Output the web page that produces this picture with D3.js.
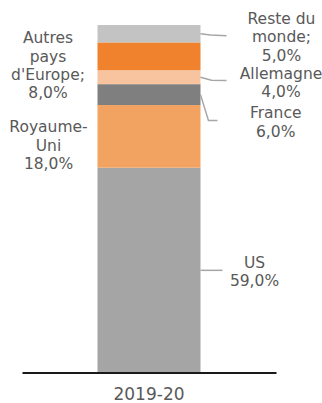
<!DOCTYPE html>
<html>
<head>
<meta charset="utf-8">
<script src="https://cdn.jsdelivr.net/npm/d3@7"></script>
<style>
  html, body { margin: 0; padding: 0; background: #fff; }
  svg { display: block; }
  text { font-family: "DejaVu Sans", sans-serif; fill: #595959; }
</style>
</head>
<body>
<svg id="chart" width="322" height="403"></svg>
<script>
// ---- data ----
const period = ["2019-20"];
const categories = ["US", "Royaume-Uni", "France", "Allemagne", "Autres pays d'Europe", "Reste du monde"];
const values = [59, 18, 6, 4, 8, 5];
const labelLines = [
  ["US", "59,0%"],
  ["Royaume-", "Uni", "18,0%"],
  ["France", "6,0%"],
  ["Allemagne", "4,0%"],
  ["Autres", "pays", "d'Europe;", "8,0%"],
  ["Reste du", "monde;", "5,0%"]
];

// ---- styles / layout ----
const colors = ["#a5a5a5", "#f3a361", "#7f7f7f", "#f8c4a0", "#f0822e", "#c3c3c3"];
const labelLayout = [
  { x: 254.5, y: 267.7, leader: [[0, 0], [22, 0]] },
  { x: 48.5, y: 132.3, leader: null },
  { x: 275.7, y: 118.3, leader: [[0, 0], [8, 26], [17, 26]] },
  { x: 281, y: 79, leader: [[0, 0], [11, 3], [26, 3.3]] },
  { x: 48, y: 43.3, leader: null },
  { x: 281.5, y: 24, leader: [[0, 0], [10, 1.2], [26, 2]] }
];

const svg = d3.select("#chart");
const x = d3.scaleBand().domain(period).range([22, 276]).paddingInner(0).paddingOuter(0.733);
const y = d3.scaleLinear().domain([0, 100]).range([373, 25]);

let cum = 0;
const segs = values.map((v, i) => {
  const s = { i, y0: cum, y1: cum + v };
  cum += v;
  return s;
});

svg.append("g").selectAll("rect").data(segs).join("rect")
  .attr("x", x(period[0]))
  .attr("width", x.bandwidth())
  .attr("y", d => y(d.y1))
  .attr("height", d => y(d.y0) - y(d.y1))
  .attr("fill", d => colors[d.i]);

const xr = x(period[0]) + x.bandwidth();
const line = d3.line();
segs.forEach(d => {
  const L = labelLayout[d.i];
  if (!L.leader) return;
  const ym = y((d.y0 + d.y1) / 2);
  svg.append("path")
    .attr("d", line(L.leader.map(p => [xr + p[0], ym + p[1]])))
    .attr("fill", "none")
    .attr("stroke", "#a6a6a6")
    .attr("stroke-width", 1.5);
});

segs.forEach(d => {
  const L = labelLayout[d.i];
  const t = svg.append("text")
    .attr("text-anchor", "middle")
    .attr("font-size", 15.5);
  labelLines[d.i].forEach((s, k) => {
    t.append("tspan").attr("x", L.x).attr("y", L.y + k * 18.3).text(s);
  });
});

const axis = d3.axisBottom(x).tickSize(0).tickPadding(0);
const ag = svg.append("g").attr("transform", "translate(0,372.5)").call(axis);
ag.select(".domain").attr("stroke", "#1a1a1a").attr("stroke-width", 2);
ag.selectAll(".tick text")
  .attr("y", 27.5).attr("dy", 0)
  .attr("font-size", 17)
  .attr("font-family", "DejaVu Sans, sans-serif")
  .attr("fill", "#595959");
</script>
</body>
</html>
